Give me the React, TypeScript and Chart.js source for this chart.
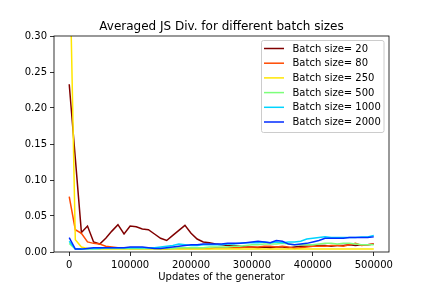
import React, { useEffect, useRef } from "react";
import { Chart, registerables } from "chart.js";

Chart.register(...registerables);

const steps = [
  0, 10000, 20000, 30000, 40000, 50000, 60000, 70000, 80000, 90000,
  100000, 110000, 120000, 130000, 140000, 150000, 160000, 170000, 180000, 190000,
  200000, 210000, 220000, 230000, 240000, 250000, 260000, 270000, 280000, 290000,
  300000, 310000, 320000, 330000, 340000, 350000, 360000, 370000, 380000, 390000,
  400000, 410000, 420000, 430000, 440000, 450000, 460000, 470000, 480000, 490000, 500000,
];

const batch20 = [
  0.233, 0.130, 0.027, 0.036, 0.014, 0.011, 0.019, 0.029, 0.038, 0.025,
  0.036, 0.035, 0.032, 0.031, 0.025, 0.019, 0.016, 0.023, 0.030, 0.037,
  0.026, 0.018, 0.014, 0.013, 0.011, 0.010, 0.009, 0.009, 0.008, 0.007,
  0.007, 0.006, 0.007, 0.006, 0.007, 0.007, 0.006, 0.007, 0.008, 0.008,
  0.008, 0.009, 0.009, 0.008, 0.009, 0.009, 0.010, 0.009, 0.010, 0.010, 0.011,
];
const batch80 = [
  0.077, 0.031, 0.026, 0.014, 0.012, 0.011, 0.008, 0.007, 0.006, 0.006,
  0.005, 0.005, 0.005, 0.005, 0.005, 0.004, 0.004, 0.005, 0.005, 0.005,
  0.005, 0.005, 0.005, 0.005, 0.006, 0.006, 0.006, 0.006, 0.006, 0.007,
  0.007, 0.007, 0.008, 0.008, 0.007, 0.008, 0.007, 0.005, 0.006, 0.007,
  0.008, 0.008, 0.008, 0.009, 0.009, 0.008, 0.010, 0.012, 0.009, 0.010, 0.011,
];
const batch250 = [
  0.440, 0.017, 0.007, 0.005, 0.005, 0.004, 0.004, 0.004, 0.004, 0.004,
  0.004, 0.004, 0.004, 0.004, 0.004, 0.004, 0.004, 0.004, 0.004, 0.004,
  0.004, 0.004, 0.004, 0.004, 0.004, 0.004, 0.004, 0.004, 0.004, 0.004,
  0.004, 0.004, 0.004, 0.004, 0.004, 0.004, 0.004, 0.004, 0.004, 0.004,
  0.004, 0.004, 0.004, 0.004, 0.004, 0.004, 0.004, 0.004, 0.004, 0.004, 0.004,
];
const batch500 = [
  0.012, 0.004, 0.004, 0.004, 0.004, 0.005, 0.005, 0.005, 0.005, 0.005,
  0.005, 0.005, 0.005, 0.005, 0.005, 0.005, 0.005, 0.005, 0.006, 0.006,
  0.006, 0.006, 0.006, 0.007, 0.007, 0.007, 0.007, 0.008, 0.008, 0.009,
  0.010, 0.010, 0.011, 0.011, 0.011, 0.012, 0.011, 0.010, 0.010, 0.010,
  0.010, 0.011, 0.012, 0.012, 0.011, 0.012, 0.012, 0.011, 0.010, 0.010, 0.010,
];
const batch1000 = [
  0.015, 0.004, 0.004, 0.005, 0.005, 0.005, 0.006, 0.006, 0.006, 0.006,
  0.006, 0.006, 0.006, 0.006, 0.006, 0.007, 0.008, 0.009, 0.011, 0.010,
  0.009, 0.009, 0.010, 0.010, 0.010, 0.010, 0.011, 0.011, 0.012, 0.013,
  0.013, 0.013, 0.014, 0.013, 0.014, 0.013, 0.014, 0.014, 0.015, 0.018,
  0.019, 0.020, 0.021, 0.020, 0.020, 0.020, 0.020, 0.020, 0.021, 0.021, 0.023,
];
const batch2000 = [
  0.020, 0.004, 0.004, 0.005, 0.006, 0.006, 0.006, 0.006, 0.006, 0.006,
  0.007, 0.007, 0.007, 0.006, 0.005, 0.005, 0.006, 0.007, 0.008, 0.009,
  0.010, 0.010, 0.011, 0.011, 0.011, 0.011, 0.012, 0.012, 0.012, 0.013,
  0.014, 0.015, 0.014, 0.013, 0.016, 0.015, 0.011, 0.010, 0.011, 0.012,
  0.014, 0.016, 0.019, 0.019, 0.019, 0.019, 0.020, 0.020, 0.020, 0.020, 0.021,
];

const seriesLabels = [
  "Batch size= 20",
  "Batch size= 80",
  "Batch size= 250",
  "Batch size= 500",
  "Batch size= 1000",
  "Batch size= 2000",
];
const seriesValues = [batch20, batch80, batch250, batch500, batch1000, batch2000];
const seriesColors = ["#800000", "#ff4900", "#ffe600", "#7cff7a", "#00d4ff", "#002bff"];

const xTicks = [0, 100000, 200000, 300000, 400000, 500000];
const yTicks = [0, 0.05, 0.1, 0.15, 0.2, 0.25, 0.3];

const titleText = "Averaged JS Div. for different batch sizes";
const xTitle = "Updates of the generator";

const FONT = '"DejaVu Sans", Verdana, sans-serif';

const framePlugin = {
  id: "frameAndLegend",
  afterDraw(chart: any) {
    const { ctx, chartArea } = chart;
    const { left, right, top, bottom } = chartArea;
    ctx.save();
    // spines
    ctx.strokeStyle = "#000";
    ctx.lineWidth = 0.8;
    ctx.strokeRect(left, top, right - left, bottom - top);
    // title
    ctx.fillStyle = "#000";
    ctx.font = `12px ${FONT}`;
    ctx.textAlign = "center";
    ctx.textBaseline = "alphabetic";
    ctx.fillText(titleText, (left + right) / 2, top - 6);
    // legend
    const bx = 261.5, by = 40.5, bw = 122.5, bh = 92;
    const r = 2;
    ctx.beginPath();
    ctx.moveTo(bx + r, by);
    ctx.lineTo(bx + bw - r, by);
    ctx.quadraticCurveTo(bx + bw, by, bx + bw, by + r);
    ctx.lineTo(bx + bw, by + bh - r);
    ctx.quadraticCurveTo(bx + bw, by + bh, bx + bw - r, by + bh);
    ctx.lineTo(bx + r, by + bh);
    ctx.quadraticCurveTo(bx, by + bh, bx, by + bh - r);
    ctx.lineTo(bx, by + r);
    ctx.quadraticCurveTo(bx, by, bx + r, by);
    ctx.closePath();
    ctx.fillStyle = "rgba(255,255,255,0.8)";
    ctx.fill();
    ctx.strokeStyle = "#cccccc";
    ctx.lineWidth = 1;
    ctx.stroke();
    ctx.font = `10px ${FONT}`;
    ctx.textAlign = "left";
    ctx.textBaseline = "middle";
    chart.data.datasets.forEach((ds: any, i: number) => {
      const y = 48.5 + i * 14.7;
      ctx.strokeStyle = ds.borderColor;
      ctx.lineWidth = 1.5;
      ctx.beginPath();
      ctx.moveTo(264, y);
      ctx.lineTo(284, y);
      ctx.stroke();
      ctx.fillStyle = "#000";
      ctx.fillText(ds.label, 292.5, y + 0.5);
    });
    ctx.restore();
  },
};

export default function App() {
  const canvasRef = useRef<HTMLCanvasElement | null>(null);

  useEffect(() => {
    document.body.style.margin = "0";
    const canvas = canvasRef.current;
    if (!canvas) return;
    const datasets = seriesValues.map((vals, i) => ({
      label: seriesLabels[i],
      data: steps.map((x, j) => ({ x, y: vals[j] })),
      borderColor: seriesColors[i],
      backgroundColor: seriesColors[i],
      borderWidth: 1.5,
      pointRadius: 0,
      tension: 0,
      fill: false,
      order: seriesValues.length - 1 - i,
    }));
    const chart = new Chart(canvas, {
      type: "line",
      data: { datasets },
      plugins: [framePlugin],
      options: {
        responsive: false,
        animation: false,
        layout: { padding: { left: 0, right: 43, top: 36, bottom: 0 } },
        plugins: {
          legend: { display: false },
          title: { display: false },
          tooltip: { enabled: false },
        },
        scales: {
          x: {
            type: "linear",
            min: -25000,
            max: 525000,
            afterBuildTicks: (scale: any) => {
              scale.ticks = xTicks.map((v) => ({ value: v }));
            },
            afterFit: (scale: any) => {
              scale.height = 36;
            },
            grid: {
              display: true,
              drawOnChartArea: false,
              drawTicks: true,
              tickLength: 4,
              color: "#000",
              lineWidth: 0.8,
            },
            border: { display: false },
            ticks: {
              autoSkip: false,
              maxRotation: 0,
              padding: 3,
              color: "#000",
              font: { family: FONT, size: 10 },
              callback: (v: any) => String(v),
            },
            title: {
              display: true,
              text: xTitle,
              color: "#000",
              font: { family: FONT, size: 10 },
              padding: { top: 0, bottom: 5 },
            },
          },
          y: {
            type: "linear",
            min: 0,
            max: 0.3,
            afterBuildTicks: (scale: any) => {
              scale.ticks = yTicks.map((v) => ({ value: v }));
            },
            afterFit: (scale: any) => {
              scale.width = 54;
            },
            grid: {
              display: true,
              drawOnChartArea: false,
              drawTicks: true,
              tickLength: 4,
              color: "#000",
              lineWidth: 0.8,
            },
            border: { display: false },
            ticks: {
              autoSkip: false,
              padding: 3,
              color: "#000",
              font: { family: FONT, size: 10 },
              callback: (v: any) => Number(v).toFixed(2),
            },
          },
        },
      },
    } as any);
    return () => chart.destroy();
  }, []);

  return (
    <div style={{ width: 432, height: 288 }}>
      <canvas ref={canvasRef} width={432} height={288} style={{ width: 432, height: 288, display: "block" }} />
    </div>
  );
}
